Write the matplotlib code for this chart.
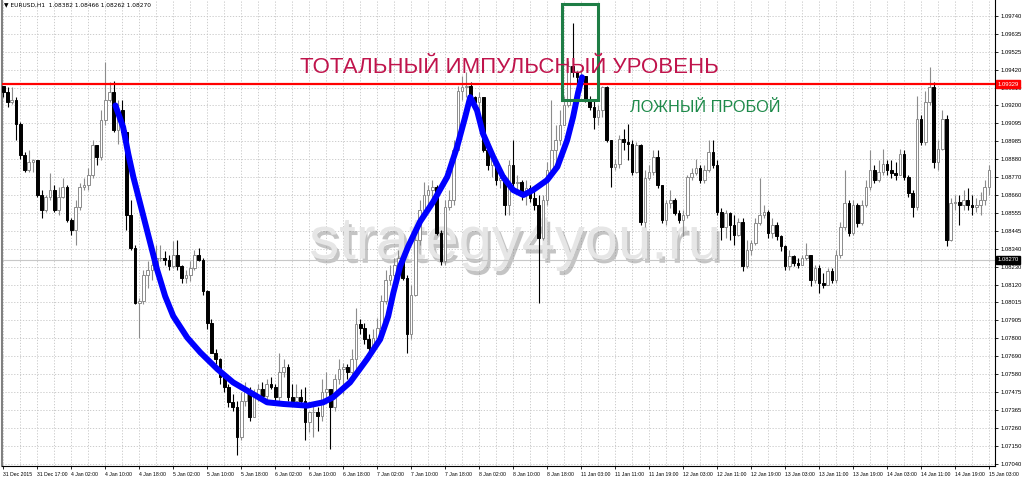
import matplotlib
matplotlib.use('Agg')
import matplotlib.pyplot as plt
import matplotlib.patheffects as pe
from matplotlib.patches import Rectangle
import numpy as np

# EURUSD H1 candles
first_open = 1.0932
close = [
    1.0928, 1.0922, 1.0923, 1.0909, 1.0890, 1.0881, 1.0886, 1.0887, 1.0866, 1.0857, 1.0865, 1.0869,
    1.0857, 1.0865, 1.0871, 1.0851, 1.0845, 1.0859, 1.0871, 1.0872, 1.0878, 1.0896, 1.0889, 1.0911,
    1.0923, 1.0928, 1.0905, 1.0917, 1.0904, 1.0854, 1.0834, 1.0801, 1.0802, 1.0818, 1.0821, 1.0824,
    1.0828, 1.0828, 1.0827, 1.0823, 1.0830, 1.0823, 1.0816, 1.0818, 1.0822, 1.0830, 1.0827, 1.0808,
    1.0789, 1.0771, 1.0767, 1.0756, 1.0750, 1.0741, 1.0738, 1.0720, 1.0742, 1.0747, 1.0732, 1.0744,
    1.0749, 1.0745, 1.0752, 1.0750, 1.0744, 1.0759, 1.0762, 1.0744, 1.0742, 1.0744, 1.0742, 1.0729,
    1.0735, 1.0735, 1.0733, 1.0747, 1.0749, 1.0738, 1.0755, 1.0761, 1.0762, 1.0759, 1.0767, 1.0788,
    1.0786, 1.0779, 1.0774, 1.0780, 1.0786, 1.0802, 1.0815, 1.0818, 1.0824, 1.0828, 1.0816, 1.0782,
    1.0806, 1.0839, 1.0857, 1.0866, 1.0869, 1.0871, 1.0843, 1.0826, 1.0859, 1.0863, 1.0893, 1.0929,
    1.0931, 1.0932, 1.0925, 1.0922, 1.0925, 1.0893, 1.0884, 1.0887, 1.0875, 1.0876, 1.0860, 1.0884,
    1.0873, 1.0874, 1.0866, 1.0870, 1.0864, 1.0860, 1.0840, 1.0863, 1.0881, 1.0893, 1.0899, 1.0908,
    1.0920, 1.0944, 1.0940, 1.0937, 1.0938, 1.0923, 1.0919, 1.0913, 1.0917, 1.0931, 1.0899, 1.0883,
    1.0885, 1.0900, 1.0898, 1.0897, 1.0880, 1.0896, 1.0850, 1.0876, 1.0880, 1.0889, 1.0872, 1.0851,
    1.0861, 1.0863, 1.0855, 1.0851, 1.0854, 1.0877, 1.0879, 1.0882, 1.0875, 1.0881, 1.0892, 1.0884,
    1.0856, 1.0847, 1.0855, 1.0848, 1.0842, 1.0850, 1.0823, 1.0833, 1.0837, 1.0849, 1.0854, 1.0856,
    1.0843, 1.0848, 1.0841, 1.0835, 1.0823, 1.0829, 1.0825, 1.0824, 1.0828, 1.0830, 1.0815, 1.0822,
    1.0813, 1.0812, 1.0820, 1.0815, 1.0830, 1.0847, 1.0861, 1.0843, 1.0860, 1.0849, 1.0860, 1.0871,
    1.0881, 1.0875, 1.0880, 1.0885, 1.0881, 1.0879, 1.0878, 1.0891, 1.0877, 1.0867, 1.0859, 1.0912,
    1.0898, 1.0922, 1.0931, 1.0886, 1.0894, 1.0912, 1.0839, 1.0861, 1.0862, 1.0860, 1.0863, 1.0860,
    1.0859, 1.0860, 1.0863, 1.0871, 1.0881,
]
high = [
    1.0932, 1.0931, 1.0931, 1.0925, 1.0910, 1.0892, 1.0893, 1.0888, 1.0887, 1.0869, 1.0866, 1.0879,
    1.0872, 1.0871, 1.0876, 1.0872, 1.0852, 1.0863, 1.0873, 1.0876, 1.0882, 1.0899, 1.0896, 1.0917,
    1.0946, 1.0934, 1.0935, 1.0923, 1.0923, 1.0905, 1.0863, 1.0836, 1.0804, 1.0821, 1.0826, 1.0827,
    1.0836, 1.0836, 1.0832, 1.0830, 1.0838, 1.0839, 1.0824, 1.0821, 1.0826, 1.0833, 1.0834, 1.0828,
    1.0809, 1.0791, 1.0773, 1.0768, 1.0758, 1.0752, 1.0746, 1.0742, 1.0747, 1.0753, 1.0750, 1.0749,
    1.0752, 1.0753, 1.0755, 1.0756, 1.0752, 1.0771, 1.0767, 1.0764, 1.0752, 1.0752, 1.0749, 1.0750,
    1.0736, 1.0739, 1.0738, 1.0755, 1.0759, 1.0749, 1.0758, 1.0767, 1.0765, 1.0764, 1.0773, 1.0798,
    1.0791, 1.0789, 1.0782, 1.0785, 1.0792, 1.0806, 1.0821, 1.0824, 1.0828, 1.0833, 1.0830, 1.0818,
    1.0812, 1.0845, 1.0863, 1.0874, 1.0872, 1.0875, 1.0872, 1.0845, 1.0863, 1.0869, 1.0899, 1.0932,
    1.0938, 1.0940, 1.0934, 1.0926, 1.0928, 1.0925, 1.0899, 1.0893, 1.0887, 1.0881, 1.0878, 1.0887,
    1.0899, 1.0878, 1.0875, 1.0875, 1.0872, 1.0869, 1.0866, 1.0866, 1.0886, 1.0923, 1.0908, 1.0917,
    1.0926, 1.0947, 1.0970, 1.0941, 1.0941, 1.0938, 1.0926, 1.0923, 1.0920, 1.0932, 1.0932, 1.0899,
    1.0888, 1.0902, 1.0906, 1.0909, 1.0899, 1.0898, 1.0897, 1.0881, 1.0884, 1.0893, 1.0893, 1.0872,
    1.0863, 1.0869, 1.0864, 1.0857, 1.0857, 1.0878, 1.0882, 1.0888, 1.0884, 1.0884, 1.0899, 1.0899,
    1.0887, 1.0858, 1.0857, 1.0856, 1.0854, 1.0852, 1.0852, 1.0839, 1.0839, 1.0852, 1.0876, 1.0860,
    1.0857, 1.0852, 1.0850, 1.0842, 1.0836, 1.0833, 1.0830, 1.0828, 1.0830, 1.0837, 1.0830, 1.0824,
    1.0824, 1.0819, 1.0822, 1.0822, 1.0833, 1.0850, 1.0881, 1.0863, 1.0863, 1.0861, 1.0863, 1.0875,
    1.0893, 1.0884, 1.0887, 1.0894, 1.0887, 1.0887, 1.0886, 1.0894, 1.0893, 1.0878, 1.0869, 1.0926,
    1.0914, 1.0929, 1.0943, 1.0934, 1.0899, 1.0917, 1.0914, 1.0864, 1.0866, 1.0866, 1.0869, 1.0870,
    1.0866, 1.0864, 1.0868, 1.0875, 1.0884,
]
low = [
    1.0925, 1.0919, 1.0921, 1.0899, 1.0888, 1.0880, 1.0880, 1.0880, 1.0865, 1.0852, 1.0856, 1.0863,
    1.0856, 1.0854, 1.0864, 1.0850, 1.0842, 1.0836, 1.0857, 1.0869, 1.0869, 1.0876, 1.0884, 1.0887,
    1.0908, 1.0922, 1.0904, 1.0897, 1.0902, 1.0845, 1.0833, 1.0800, 1.0780, 1.0800, 1.0810, 1.0815,
    1.0822, 1.0826, 1.0824, 1.0821, 1.0822, 1.0821, 1.0813, 1.0813, 1.0814, 1.0821, 1.0826, 1.0806,
    1.0785, 1.0771, 1.0764, 1.0752, 1.0747, 1.0738, 1.0736, 1.0709, 1.0718, 1.0739, 1.0730, 1.0732,
    1.0742, 1.0742, 1.0742, 1.0749, 1.0742, 1.0742, 1.0756, 1.0742, 1.0741, 1.0742, 1.0739, 1.0718,
    1.0723, 1.0720, 1.0724, 1.0730, 1.0742, 1.0713, 1.0736, 1.0752, 1.0746, 1.0755, 1.0756, 1.0756,
    1.0782, 1.0776, 1.0771, 1.0771, 1.0776, 1.0785, 1.0800, 1.0812, 1.0815, 1.0820, 1.0815, 1.0771,
    1.0779, 1.0805, 1.0836, 1.0854, 1.0860, 1.0863, 1.0842, 1.0824, 1.0824, 1.0857, 1.0860, 1.0905,
    1.0923, 1.0925, 1.0923, 1.0917, 1.0916, 1.0892, 1.0881, 1.0877, 1.0872, 1.0870, 1.0854, 1.0854,
    1.0870, 1.0869, 1.0863, 1.0860, 1.0862, 1.0857, 1.0801, 1.0839, 1.0860, 1.0876, 1.0886, 1.0896,
    1.0908, 1.0919, 1.0937, 1.0931, 1.0929, 1.0922, 1.0917, 1.0906, 1.0908, 1.0913, 1.0898, 1.0871,
    1.0881, 1.0882, 1.0893, 1.0887, 1.0878, 1.0879, 1.0848, 1.0847, 1.0875, 1.0878, 1.0870, 1.0849,
    1.0848, 1.0858, 1.0854, 1.0849, 1.0841, 1.0852, 1.0875, 1.0878, 1.0873, 1.0873, 1.0880, 1.0882,
    1.0854, 1.0839, 1.0840, 1.0839, 1.0836, 1.0841, 1.0820, 1.0822, 1.0830, 1.0836, 1.0848, 1.0852,
    1.0840, 1.0840, 1.0839, 1.0832, 1.0821, 1.0821, 1.0823, 1.0822, 1.0824, 1.0827, 1.0811, 1.0813,
    1.0807, 1.0810, 1.0812, 1.0813, 1.0813, 1.0828, 1.0845, 1.0841, 1.0842, 1.0847, 1.0848, 1.0859,
    1.0869, 1.0873, 1.0874, 1.0878, 1.0878, 1.0876, 1.0875, 1.0880, 1.0875, 1.0865, 1.0853, 1.0857,
    1.0896, 1.0896, 1.0920, 1.0882, 1.0881, 1.0893, 1.0835, 1.0838, 1.0857, 1.0848, 1.0857, 1.0857,
    1.0854, 1.0856, 1.0854, 1.0860, 1.0866,
]

time_labels = ['31 Dec 2015', '31 Dec 17:00', '4 Jan 02:00', '4 Jan 10:00', '4 Jan 18:00',
               '5 Jan 02:00', '5 Jan 10:00', '5 Jan 18:00', '6 Jan 02:00', '6 Jan 10:00',
               '6 Jan 18:00', '7 Jan 02:00', '7 Jan 10:00', '7 Jan 18:00', '8 Jan 02:00',
               '8 Jan 10:00', '8 Jan 18:00', '11 Jan 03:00', '11 Jan 11:00', '11 Jan 19:00',
               '12 Jan 03:00', '12 Jan 11:00', '12 Jan 19:00', '13 Jan 03:00', '13 Jan 11:00',
               '13 Jan 19:00', '14 Jan 03:00', '14 Jan 11:00', '14 Jan 19:00', '15 Jan 03:00']
price_labels = ['1.09740', '1.09635', '1.09525', '1.09420', '1.09310', '1.09200', '1.09095',
                '1.08985', '1.08880', '1.08770', '1.08660', '1.08555', '1.08445', '1.08340',
                '1.08230', '1.08120', '1.08015', '1.07905', '1.07800', '1.07690', '1.07580',
                '1.07475', '1.07365', '1.07260', '1.07150', '1.07040']

level = 1.09329
last_price = 1.08270
header = '\u25bc EURUSD,H1  1.08382 1.08466 1.08262 1.08270'

# hand drawn blue curve (candle index, price)
curve_idx = [26.4, 28.2, 29.4, 30.6, 32.2, 34.6, 36.2, 38.1, 40.0, 43.3, 46.4, 50.4, 54.1,
             58.1, 62.1, 65.9, 71.5, 75.3, 77.6, 81.6, 85.6, 88.7, 90.6, 91.8, 93.4, 95.3,
             98.1, 101.2, 104.5, 106.8, 108.7, 109.9, 111.5, 112.9, 115.3, 117.6, 120.0,
             122.4, 124.7, 128.0, 130.4, 132.7, 134.1, 135.3, 136.2]
curve_price = [1.0920, 1.0907, 1.0891, 1.0877, 1.0861, 1.0837, 1.0821, 1.0805, 1.0793, 1.0780,
               1.0771, 1.0761, 1.0753, 1.0747, 1.0741, 1.0740, 1.0739, 1.0741, 1.0744, 1.0753,
               1.0767, 1.0779, 1.0793, 1.0807, 1.0823, 1.0835, 1.0850, 1.0862, 1.0877, 1.0895,
               1.0913, 1.0925, 1.0917, 1.0903, 1.0889, 1.0877, 1.0869, 1.0866, 1.0869, 1.0875,
               1.0883, 1.0899, 1.0913, 1.0928, 1.0937]

box_idx = (131.5, 140.0)
box_price = (1.0923, 1.0981)

# candles
c = np.array(close)
o = np.array([first_open] + close[:-1])
h = np.maximum(np.array(high), np.maximum(o, c))
l = np.minimum(np.array(low), np.minimum(o, c))
idx = np.arange(len(c))
up = c >= o

fig = plt.figure(figsize=(10.24, 4.79), dpi=100)
ax = fig.add_axes([2 / 1024, 13 / 479, 993 / 1024, 466 / 479])
ax.set_xlim(-0.3, 233.4)
ax.set_ylim(1.07026, 1.09836)

# grid and axes
yt = np.linspace(1.09740, 1.07040, len(price_labels))
ax.yaxis.tick_right()
ax.set_yticks(yt, price_labels)
ax.set_xticks(np.arange(0, 8 * len(time_labels), 8), time_labels, ha='left')
ax.set_xticks(np.arange(4, 233, 8), minor=True)
ax.tick_params(axis='both', labelsize=4.2, length=2.5, width=0.6, colors='black', pad=1.5)
ax.tick_params(axis='x', labelsize=3.7)
ax.tick_params(axis='x', which='minor', length=0)
ax.grid(True, which='both', color='#c4c4c4', lw=0.6, ls=(0, (1.5, 2)))
ax.grid(False, axis='y', which='minor')
ax.set_axisbelow(True)
for lab in ax.get_xticklabels() + ax.get_yticklabels():
    lab.set_family('Liberation Sans')
ax.spines['top'].set_visible(False)
ax.spines['left'].set_color('#808080')
ax.spines['left'].set_linewidth(1.5)
ax.spines['right'].set_linewidth(0.8)
ax.spines['bottom'].set_linewidth(0.8)

# watermark
ax.text(120.5, 1.0837, 'strategy4you.ru', fontsize=43, color='#e6e6e6', ha='center', va='center',
        family='Liberation Sans', zorder=1.5,
        path_effects=[pe.SimplePatchShadow(offset=(2, -3), shadow_rgbFace='#8a8a8a', alpha=0.5),
                      pe.Normal()])

ax.axhline(last_price, color='#c8c8c8', lw=0.8, zorder=1.6)

ax.vlines(idx[up], l[up], h[up], color='#8c8c8c', lw=0.8, zorder=2)
ax.vlines(idx[~up], l[~up], h[~up], color='black', lw=0.8, zorder=2)
ax.bar(idx[up], (c - o)[up], bottom=o[up], width=0.62, color='white', edgecolor='#8c8c8c',
       lw=0.7, zorder=3)
ax.bar(idx[~up], (o - c)[~up], bottom=c[~up], width=0.62, color='black', edgecolor='black',
       lw=0.7, zorder=3)

ax.axhline(level, color='#ff0000', lw=1.6, zorder=4)

ax.plot(curve_idx, curve_price, color='#0000ff', lw=4.3, solid_capstyle='round',
        solid_joinstyle='round', zorder=5)

ax.add_patch(Rectangle((box_idx[0], box_price[0]), box_idx[1] - box_idx[0],
                       box_price[1] - box_price[0], fill=False, ec='#1e7d45', lw=2.2, zorder=6))

ax.text(69.9, 1.0943, 'ТОТАЛЬНЫЙ ИМПУЛЬСНЫЙ УРОВЕНЬ', fontsize=16, color='#c0144c',
        family='Liberation Sans', ha='left', va='center', zorder=7)
ax.text(147.5, 1.0919, 'ЛОЖНЫЙ ПРОБОЙ', fontsize=11.7, color='#1e8a4a',
        family='Liberation Sans', ha='left', va='center', zorder=7)

# price boxes on the right scale
ytr = ax.get_yaxis_transform()
ax.text(1.0025, level, '1.09329', transform=ytr, fontsize=4.2, color='white', ha='left',
        va='center', family='Liberation Sans', clip_on=False, zorder=8,
        bbox=dict(boxstyle='square,pad=0.25', fc='#ff0000', ec='#ff0000'))
ax.text(1.0025, last_price, '1.08270', transform=ytr, fontsize=4.2, color='white', ha='left',
        va='center', family='Liberation Sans', clip_on=False, zorder=8,
        bbox=dict(boxstyle='square,pad=0.25', fc='black', ec='black'))

fig.text(4 / 1024, 1 - 5 / 479, header, fontsize=4.2, va='center', ha='left',
         family='DejaVu Sans')

fig.savefig('out.png', dpi=100, facecolor='white')
